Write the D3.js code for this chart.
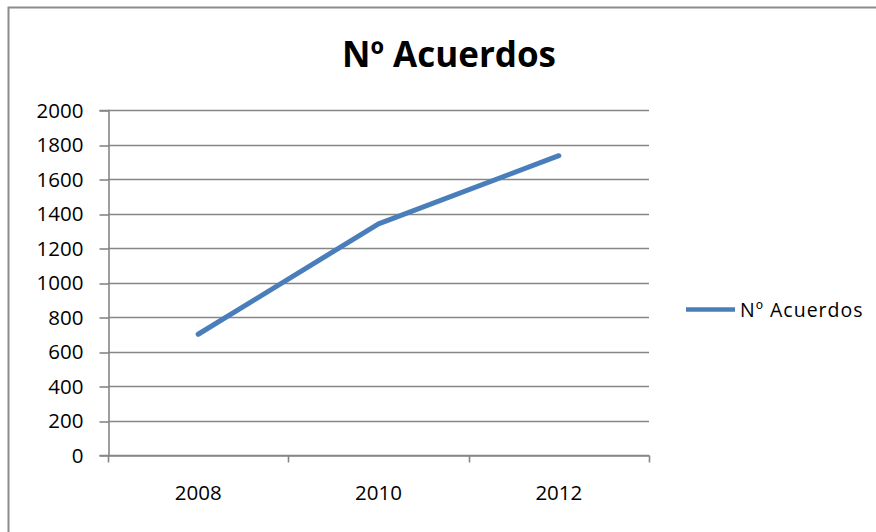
<!DOCTYPE html>
<html>
<head>
<meta charset="utf-8">
<script src="https://cdn.jsdelivr.net/npm/d3@7"></script>
<style>
  html, body { margin: 0; padding: 0; background: #fff; }
  svg { display: block; font-family: "Open Sans", "DejaVu Sans", sans-serif; }
</style>
</head>
<body>
<svg id="chart" width="876" height="532"></svg>
<script>
const title = "Nº Acuerdos";
const seriesName = "Nº Acuerdos";
const categories = ["2008", "2010", "2012"];
const values = [700, 1340, 1735];
const yTicks = [0, 200, 400, 600, 800, 1000, 1200, 1400, 1600, 1800, 2000];

const svg = d3.select("#chart");
const W = 876, H = 532;
const plot = { left: 108, right: 649, top: 110, bottom: 455 };
const gridColor = "#868686";
const lineColor = "#4a7ebb";

// outer chart border
svg.append("rect")
  .attr("x", 8.5).attr("y", 7.5)
  .attr("width", W + 20).attr("height", H + 20)
  .attr("fill", "#fff")
  .attr("stroke", "#8c8c8c").attr("stroke-width", 2);

const x = d3.scaleBand().domain(categories).range([plot.left, plot.right]).padding(0);
const y = d3.scaleLinear().domain([0, 2000]).range([plot.bottom, plot.top]);

// gridlines
svg.append("g")
  .selectAll("line")
  .data(yTicks)
  .join("line")
  .attr("x1", plot.left).attr("x2", plot.right)
  .attr("y1", d => Math.round(y(d)) + 0.5).attr("y2", d => Math.round(y(d)) + 0.5)
  .attr("stroke", gridColor).attr("stroke-width", 1.6);

// y axis
const yAxis = svg.append("g")
  .attr("transform", `translate(${plot.left + 0.5},0)`)
  .call(d3.axisLeft(y).tickValues(yTicks).tickSize(9).tickPadding(16).tickFormat(d3.format("d")));
yAxis.select(".domain").attr("stroke", gridColor).attr("stroke-width", 1.6);
yAxis.selectAll(".tick line").attr("stroke", gridColor).attr("stroke-width", 1.6)
  .attr("transform", d => `translate(0,${Math.round(y(d)) + 0.5 - y(d)})`);
yAxis.selectAll("text")
  .attr("font-family", "'Open Sans', sans-serif")
  .attr("font-size", 20.5).attr("fill", "#000")
  .attr("dy", "0.36em");

// x axis
const xAxis = svg.append("g")
  .attr("transform", `translate(0,${plot.bottom + 0.5})`)
  .call(d3.axisBottom(x).tickSize(0).tickPadding(30));
xAxis.select(".domain").attr("stroke", gridColor).attr("stroke-width", 1.6);
xAxis.selectAll("text")
  .attr("font-family", "'Open Sans', sans-serif")
  .attr("font-size", 20.5).attr("fill", "#000");
// category boundary tick marks
const bounds = categories.map(c => x(c) + x.bandwidth());
xAxis.append("g").selectAll("line")
  .data(bounds)
  .join("line")
  .attr("x1", d => Math.round(d) + 0.5).attr("x2", d => Math.round(d) + 0.5)
  .attr("y1", 0).attr("y2", 7)
  .attr("stroke", gridColor).attr("stroke-width", 1.6);
xAxis.append("line")
  .attr("x1", plot.left + 0.5).attr("x2", plot.left + 0.5)
  .attr("y1", 0).attr("y2", 7)
  .attr("stroke", gridColor).attr("stroke-width", 1.6);

// data line
const line = d3.line()
  .x((d, i) => x(categories[i]) + x.bandwidth() / 2)
  .y(d => y(d));
svg.append("path")
  .datum(values)
  .attr("d", line)
  .attr("fill", "none")
  .attr("stroke", lineColor)
  .attr("stroke-width", 5)
  .attr("stroke-linecap", "round")
  .attr("stroke-linejoin", "round");

// title
svg.append("text")
  .attr("x", 449).attr("y", 67)
  .attr("text-anchor", "middle")
  .attr("font-family", "'Open Sans', sans-serif")
  .attr("font-weight", "bold")
  .attr("font-size", 35)
  .attr("fill", "#000")
  .text(title);

// legend
const lg = svg.append("g").attr("transform", "translate(686,309.5)");
lg.append("line")
  .attr("x1", 0).attr("x2", 49)
  .attr("y1", 0).attr("y2", 0)
  .attr("stroke", lineColor).attr("stroke-width", 4.5);
lg.append("text")
  .attr("x", 54).attr("y", 7)
  .attr("font-family", "'Open Sans', sans-serif")
  .attr("font-size", 19.5)
  .attr("letter-spacing", 1)
  .attr("fill", "#000")
  .text(seriesName);
</script>
</body>
</html>
